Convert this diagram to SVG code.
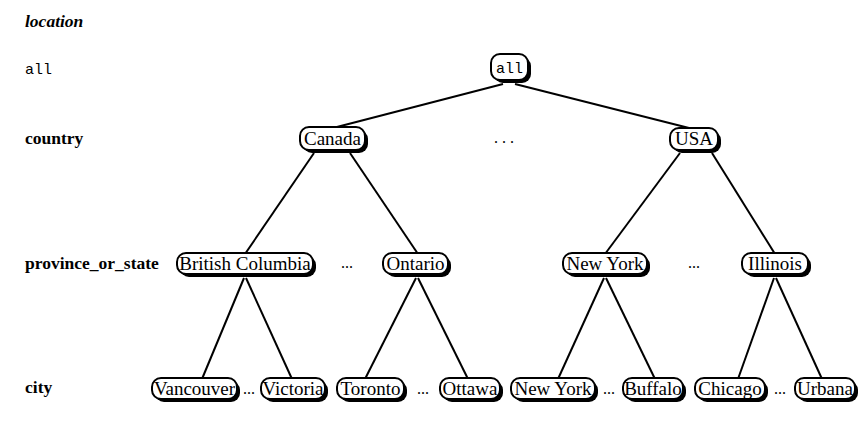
<svg xmlns="http://www.w3.org/2000/svg" width="868" height="421" viewBox="0 0 868 421">
<style>
.sh{fill:#000}
.bx{fill:#fff;stroke:#000;stroke-width:2}
.t{font-family:"Liberation Serif","Times New Roman",serif;font-size:19px;text-anchor:middle;fill:#000}
.m{font-family:"Liberation Mono","DejaVu Sans Mono",monospace;font-size:15px;fill:#000}
.lb{font-family:"Liberation Serif","Times New Roman",serif;font-size:17.5px;font-weight:bold;fill:#000}
.d{font-family:"Liberation Serif","Times New Roman",serif;font-size:16px;fill:#000}
.c line{stroke:#000;stroke-width:2}
</style>
<rect width="868" height="421" fill="#fff"/>
<g id="labels">
<text x="25" y="27" class="lb" font-style="italic">location</text>
<text x="25" y="74" class="m">all</text>
<text x="25" y="144" class="lb">country</text>
<text x="25" y="269" class="lb">province_or_state</text>
<text x="25" y="393" class="lb">city</text>
</g>
<g id="connectors" class="c">
<line x1="503" y1="84" x2="333" y2="128"/>
<line x1="515" y1="84" x2="693" y2="129"/>
<line x1="314" y1="153" x2="245" y2="254"/>
<line x1="350" y1="153" x2="418" y2="254"/>
<line x1="680" y1="153" x2="605" y2="254"/>
<line x1="712" y1="153" x2="775" y2="254"/>
<line x1="244" y1="278" x2="202" y2="379"/>
<line x1="246" y1="278" x2="292" y2="379"/>
<line x1="416" y1="278" x2="365" y2="379"/>
<line x1="418" y1="278" x2="468" y2="379"/>
<line x1="604" y1="278" x2="558" y2="379"/>
<line x1="606" y1="278" x2="655" y2="379"/>
<line x1="774" y1="278" x2="738" y2="379"/>
<line x1="776" y1="278" x2="822" y2="379"/>
</g>
<g id="dots">
<text x="504" y="143" class="d" text-anchor="middle">. . .</text>
<text x="347" y="268" class="d" text-anchor="middle">...</text>
<text x="694" y="268" class="d" text-anchor="middle">...</text>
<text x="249" y="394" class="d" text-anchor="middle">...</text>
<text x="423" y="394" class="d" text-anchor="middle">...</text>
<text x="609" y="394" class="d" text-anchor="middle">...</text>
<text x="780" y="394" class="d" text-anchor="middle">...</text>
</g>
<g id="n-all"><rect class="sh" x="494" y="57" width="37" height="26" rx="9"/><rect class="bx" x="491" y="54" width="37" height="26" rx="9"/><text x="509.5" y="73" class="m" text-anchor="middle">all</text></g>
<g id="n-canada"><rect class="sh" x="303" y="130" width="65" height="23" rx="9"/><rect class="bx" x="300" y="127" width="65" height="23" rx="9"/><text x="332.5" y="145" class="t">Canada</text></g>
<g id="n-usa"><rect class="sh" x="673" y="131" width="48" height="22" rx="9"/><rect class="bx" x="670" y="128" width="48" height="22" rx="9"/><text x="694" y="145" class="t">USA</text></g>
<g id="n-bc"><rect class="sh" x="180" y="256" width="136" height="21" rx="9"/><rect class="bx" x="177" y="253" width="136" height="21" rx="9"/><text x="245" y="270" class="t">British Columbia</text></g>
<g id="n-ontario"><rect class="sh" x="386" y="256" width="65" height="21" rx="9"/><rect class="bx" x="383" y="253" width="65" height="21" rx="9"/><text x="415.5" y="270" class="t">Ontario</text></g>
<g id="n-newyork-state"><rect class="sh" x="566" y="256" width="84" height="21" rx="9"/><rect class="bx" x="563" y="253" width="84" height="21" rx="9"/><text x="605" y="270" class="t">New York</text></g>
<g id="n-illinois"><rect class="sh" x="745" y="256" width="66" height="21" rx="9"/><rect class="bx" x="742" y="253" width="66" height="21" rx="9"/><text x="775" y="270" class="t">Illinois</text></g>
<g id="n-vancouver"><rect class="sh" x="155" y="381" width="85" height="21" rx="9"/><rect class="bx" x="152" y="378" width="85" height="21" rx="9"/><text x="194.5" y="395" class="t">Vancouver</text></g>
<g id="n-victoria"><rect class="sh" x="264" y="381" width="64" height="21" rx="9"/><rect class="bx" x="261" y="378" width="64" height="21" rx="9"/><text x="293" y="395" class="t">Victoria</text></g>
<g id="n-toronto"><rect class="sh" x="340" y="381" width="67" height="21" rx="9"/><rect class="bx" x="337" y="378" width="67" height="21" rx="9"/><text x="370.5" y="395" class="t">Toronto</text></g>
<g id="n-ottawa"><rect class="sh" x="443" y="381" width="60" height="21" rx="9"/><rect class="bx" x="440" y="378" width="60" height="21" rx="9"/><text x="470" y="395" class="t">Ottawa</text></g>
<g id="n-newyork-city"><rect class="sh" x="514" y="381" width="84" height="21" rx="9"/><rect class="bx" x="511" y="378" width="84" height="21" rx="9"/><text x="553" y="395" class="t">New York</text></g>
<g id="n-buffalo"><rect class="sh" x="626" y="381" width="60" height="21" rx="9"/><rect class="bx" x="623" y="378" width="60" height="21" rx="9"/><text x="653" y="395" class="t">Buffalo</text></g>
<g id="n-chicago"><rect class="sh" x="698" y="381" width="70" height="21" rx="9"/><rect class="bx" x="695" y="378" width="70" height="21" rx="9"/><text x="730" y="395" class="t">Chicago</text></g>
<g id="n-urbana"><rect class="sh" x="798" y="381" width="60" height="21" rx="9"/><rect class="bx" x="795" y="378" width="60" height="21" rx="9"/><text x="825" y="395" class="t">Urbana</text></g>
</svg>
